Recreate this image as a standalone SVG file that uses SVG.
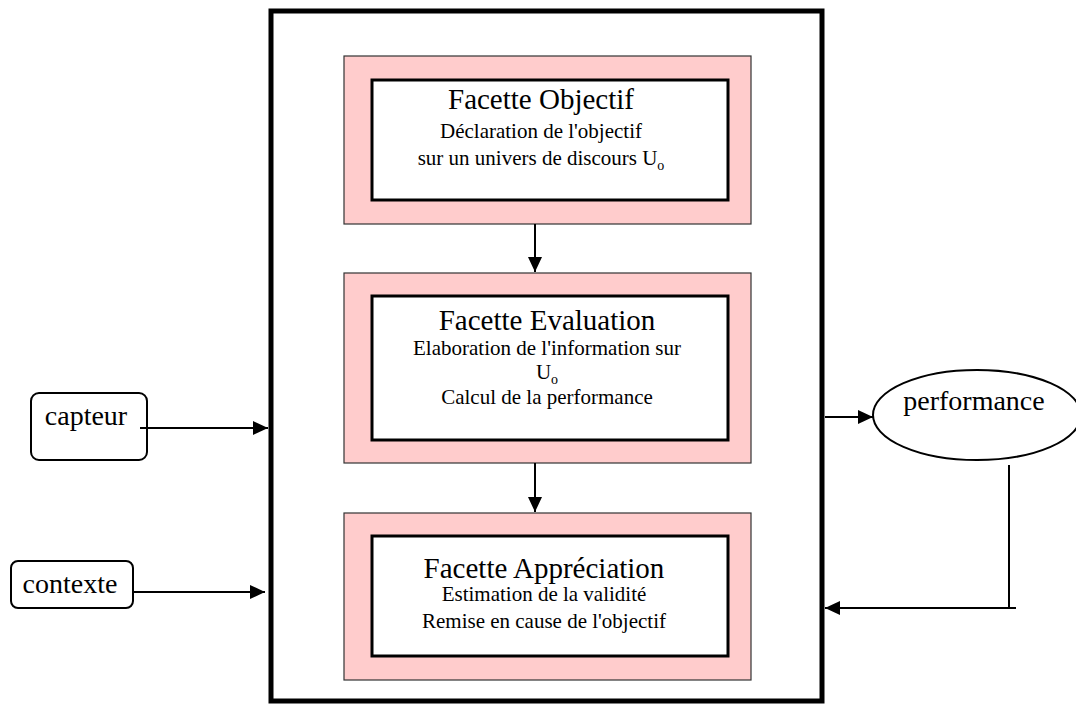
<svg xmlns="http://www.w3.org/2000/svg" width="1076" height="704" viewBox="0 0 1076 704">
<defs>
<marker id="ah" markerUnits="userSpaceOnUse" markerWidth="16" markerHeight="14" refX="15" refY="7" orient="auto">
<path d="M0,0 L15,7 L0,14 Z" fill="#000"/>
</marker>
<style>
.outer{fill:#fff;stroke:#000;stroke-width:5}
.pink{fill:#FFCCCC;stroke:#333;stroke-width:1.2}
.inner{fill:#fff;stroke:#000;stroke-width:3}
.t{font-family:"Liberation Serif","Times New Roman",serif;fill:#000;text-anchor:middle}
.title{font-size:29px}
.sub{font-size:21px}
.lab{font-size:28px}
.sb{font-size:14px;fill:#000}
.c{fill:none;stroke:#000;stroke-width:2}
.term{fill:#fff;stroke:#000;stroke-width:2}
</style>
</defs>
<rect width="1076" height="704" fill="#fff"/>
<g id="system">
<rect class="outer" x="271" y="11" width="551" height="690"/>
</g>
<g id="facette-objectif">
<rect class="pink" x="344" y="56" width="407" height="168"/>
<rect class="inner" x="372" y="80" width="356" height="120"/>
<text class="t title" x="541" y="109">Facette Objectif</text>
<text class="t sub" x="541" y="138">Déclaration de l'objectif</text>
<text class="t sub" x="541" y="165">sur un univers de discours U<tspan class="sb" dy="5">o</tspan></text>
</g>
<g id="facette-evaluation">
<rect class="pink" x="344" y="273" width="407" height="190"/>
<rect class="inner" x="372" y="296" width="356" height="144"/>
<text class="t title" x="547" y="330">Facette Evaluation</text>
<text class="t sub" x="547" y="355">Elaboration de l'information sur</text>
<text class="t sub" x="547" y="379">U<tspan class="sb" dy="5">o</tspan></text>
<text class="t sub" x="547" y="404">Calcul de la performance</text>
</g>
<g id="facette-appreciation">
<rect class="pink" x="344" y="513" width="407" height="167"/>
<rect class="inner" x="372" y="536" width="356" height="120"/>
<text class="t title" x="544" y="578">Facette Appréciation</text>
<text class="t sub" x="544" y="601">Estimation de la validité</text>
<text class="t sub" x="544" y="628">Remise en cause de l'objectif</text>
</g>
<g id="capteur">
<rect class="term" x="31" y="393" width="116" height="67" rx="8"/>
<text class="t lab" x="86" y="425">capteur</text>
</g>
<g id="contexte">
<rect class="term" x="11" y="561" width="122" height="47" rx="7"/>
<text class="t lab" x="70" y="593">contexte</text>
</g>
<g id="performance">
<ellipse class="term" cx="977" cy="415" rx="104" ry="45"/>
<text class="t lab" x="974" y="410">performance</text>
</g>
<g id="connectors">
<line class="c" x1="535" y1="224" x2="535" y2="272" marker-end="url(#ah)"/>
<line class="c" x1="535" y1="463" x2="535" y2="512" marker-end="url(#ah)"/>
<line class="c" x1="140" y1="428" x2="268" y2="428" marker-end="url(#ah)"/>
<line class="c" x1="133" y1="592" x2="265" y2="592" marker-end="url(#ah)"/>
<line class="c" x1="825" y1="417" x2="873" y2="417" marker-end="url(#ah)"/>
<polyline class="c" points="1009,465 1009,608 1016,608"/>
<line class="c" x1="1016" y1="608" x2="825" y2="608" marker-end="url(#ah)"/>
</g>
</svg>
